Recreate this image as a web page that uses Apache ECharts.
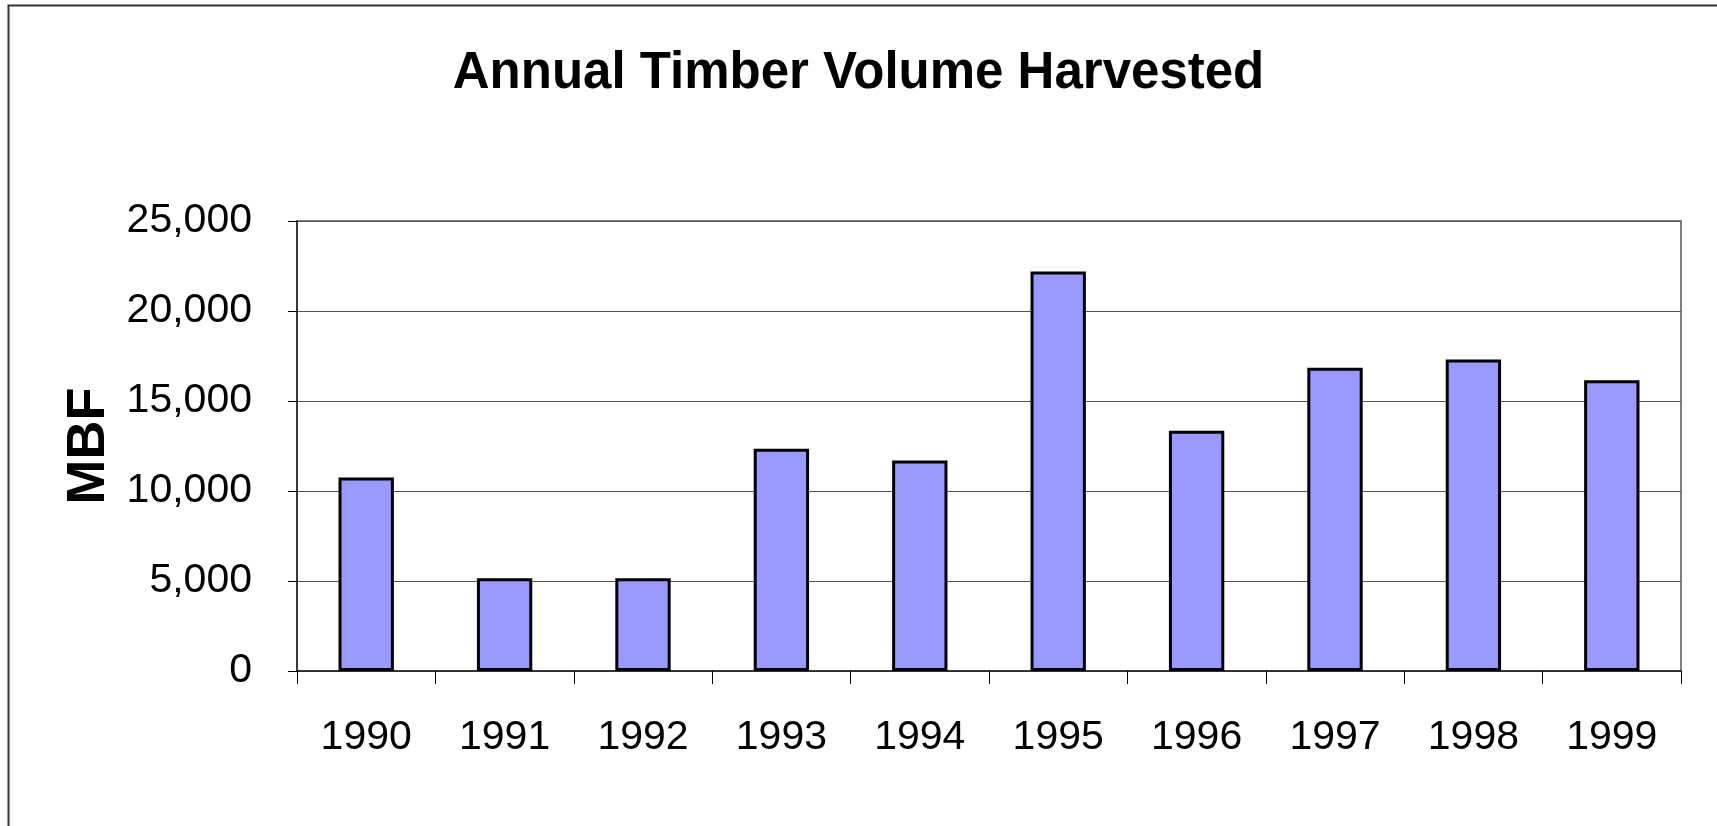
<!DOCTYPE html>
<html>
<head>
<meta charset="utf-8">
<script src="https://cdn.jsdelivr.net/npm/echarts@6/dist/echarts.min.js"></script>
<style>
  html, body { margin: 0; padding: 0; background: #ffffff; }
  #chart { width: 1717px; height: 826px; }
</style>
</head>
<body>
<div id="chart"></div>
<script>
// ---- data ----
var titleText = 'Annual Timber Volume Harvested';
var yAxisName = 'MBF';
var years = ['1990', '1991', '1992', '1993', '1994', '1995', '1996', '1997', '1998', '1999'];
var volumes = [10750, 5150, 5150, 12350, 11700, 22200, 13350, 16850, 17300, 16150];
var yMin = 0;
var yMax = 25000;
var yStep = 5000;

var chart = echarts.init(document.getElementById('chart'), null, { renderer: 'canvas' });
var labelFont = "'Liberation Sans', Arial, sans-serif";

chart.setOption({
  backgroundColor: '#ffffff',
  animation: false,
  title: {
    text: titleText,
    left: 'center',
    top: 43,
    textStyle: {
      fontFamily: "'Liberation Sans', Arial, sans-serif",
      fontWeight: 'bold',
      fontSize: 51,
      color: '#000000'
    }
  },
  graphic: [{
    type: 'rect',
    silent: true,
    shape: { x: 8.5, y: 5.5, width: 3000, height: 3000 },
    style: { fill: 'none', stroke: '#333333', lineWidth: 2 }
  }],
  grid: {
    left: 297,
    right: 36,
    top: 221,
    bottom: 155,
    show: true,
    borderColor: '#808080',
    borderWidth: 2,
    backgroundColor: 'transparent'
  },
  xAxis: {
    type: 'category',
    data: years,
    axisLine: { show: true, lineStyle: { color: '#222222', width: 1.5 } },
    axisTick: { show: true, length: 13, lineStyle: { color: '#000000', width: 1 } },
    axisLabel: {
      margin: 46,
      fontFamily: labelFont,
      fontSize: 41,
      color: '#000000'
    },
    splitLine: { show: false }
  },
  yAxis: {
    type: 'value',
    min: yMin,
    max: yMax,
    interval: yStep,
    name: yAxisName,
    nameLocation: 'middle',
    nameRotate: 90,
    nameGap: 172,
    nameTextStyle: {
      fontFamily: "'Liberation Sans', Arial, sans-serif",
      fontWeight: 'bold',
      fontSize: 54,
      color: '#000000'
    },
    axisLine: { show: true, lineStyle: { color: '#222222', width: 1.5 } },
    axisTick: { show: true, length: 9, lineStyle: { color: '#000000', width: 1 } },
    axisLabel: {
      margin: 45,
      fontFamily: labelFont,
      fontSize: 41,
      color: '#000000',
      formatter: function (v) { return v.toLocaleString('en-US'); }
    },
    splitLine: { show: true, lineStyle: { color: '#555555', width: 1 } }
  },
  series: [{
    type: 'bar',
    data: volumes,
    barWidth: '40%',
    itemStyle: {
      color: '#9999FF',
      borderColor: '#000000',
      borderWidth: 3
    }
  }]
});
</script>
</body>
</html>
